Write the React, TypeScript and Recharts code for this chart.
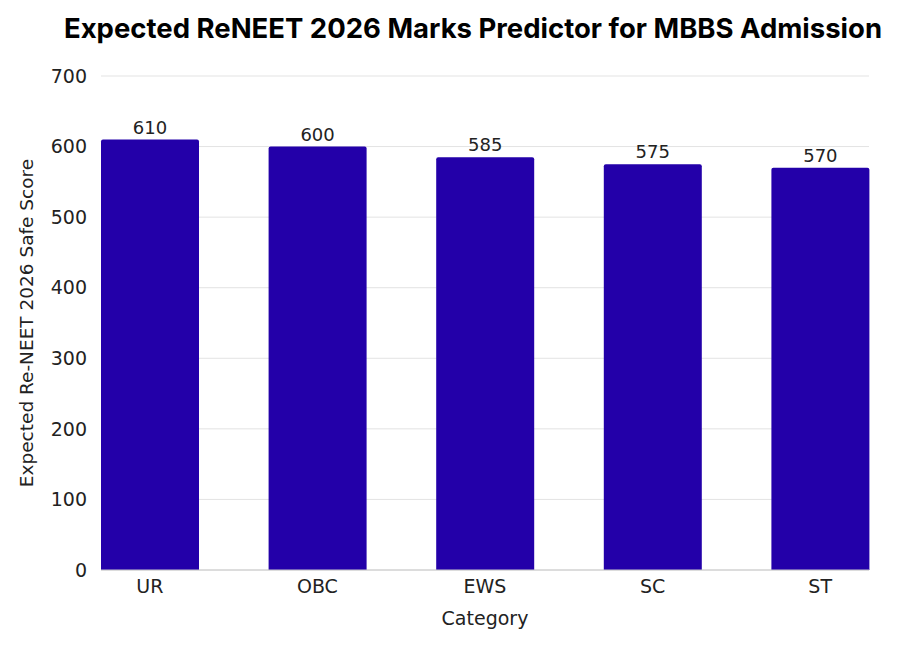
import React from "react"
import { BarChart, Bar, XAxis, YAxis, CartesianGrid, LabelList } from "recharts"

const CATEGORIES = ["UR", "OBC", "EWS", "SC", "ST"]
const SAFE_SCORES = [610, 600, 585, 575, 570]
const Y_TICKS = [0, 100, 200, 300, 400, 500, 600, 700]

const TITLE_FONT = "Inter, 'Noto Sans', sans-serif"
const FONT = "'DejaVu Sans', sans-serif"
const BAR_COLOR = "#2300A9"

const data = CATEGORIES.map((name, i) => ({ name, score: SAFE_SCORES[i] }))

export default function App() {
  return (
    <div style={{ position: "absolute", left: 0, top: 0, width: 901, height: 645, background: "#fff" }}>
      <div
        style={{
          position: "absolute",
          left: 0,
          top: 11,
          width: 946,
          textAlign: "center",
          fontSize: 27.5,
          fontWeight: 700,
          color: "#000",
          fontFamily: TITLE_FONT,
          whiteSpace: "nowrap",
        }}
      >
        Expected ReNEET 2026 Marks Predictor for MBBS Admission
      </div>
      <BarChart
        width={901}
        height={645}
        data={data}
        margin={{ top: 76, right: 32, bottom: 0, left: 0 }}
        barCategoryGap={35}
      >
        <CartesianGrid vertical={false} stroke="#e3e3e3" />
        <XAxis
          dataKey="name"
          padding={{ left: -35, right: -35 }}
          tickLine={false}
          axisLine={{ stroke: "#c8c8c8" }}
          tick={{ fontSize: 19, fill: "#222", fontFamily: FONT }}
          tickMargin={4}
          height={75}
          label={{ value: "Category", position: "insideBottom", offset: 20, fontSize: 19, fill: "#222", fontFamily: FONT }}
        />
        <YAxis
          domain={[0, 700]}
          ticks={Y_TICKS}
          width={101}
          tickLine={false}
          axisLine={false}
          tickSize={0}
          tickMargin={14}
          tick={{ fontSize: 19, fill: "#222", fontFamily: FONT }}
          label={{
            value: "Expected Re-NEET 2026 Safe Score",
            angle: -90,
            position: "insideLeft",
            offset: 26,
            style: { textAnchor: "middle" },
            fontSize: 18.5,
            fill: "#222",
            fontFamily: FONT,
          }}
        />
        <Bar dataKey="score" fill={BAR_COLOR} radius={[2, 2, 0, 0]} isAnimationActive={false}>
          <LabelList dataKey="score" position="top" offset={6} style={{ fontSize: 18, fill: "#222", fontFamily: FONT }} />
        </Bar>
      </BarChart>
    </div>
  )
}
